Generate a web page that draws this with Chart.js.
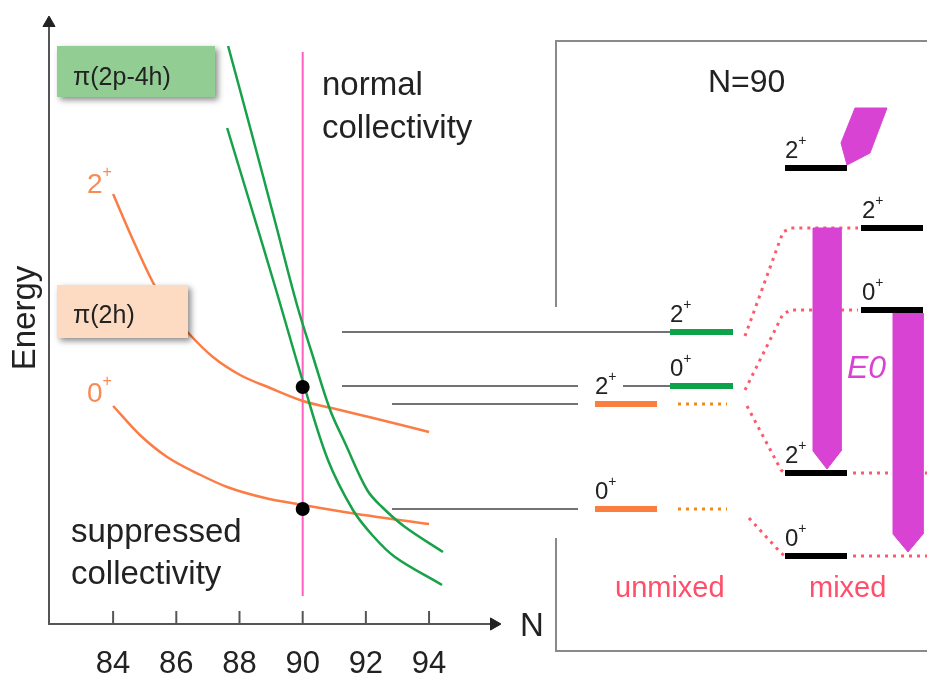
<!DOCTYPE html>
<html>
<head>
<meta charset="utf-8">
<script src="https://cdn.jsdelivr.net/npm/chart.js@4.4.0/dist/chart.umd.min.js"></script>
<style>
  html, body { margin: 0; padding: 0; background: #fff; }
  #wrap { width: 927px; height: 677px; }
</style>
</head>
<body>
<div id="wrap"><canvas id="chart"></canvas></div>
<script>
// neutron number ticks
var nTicks = [84, 86, 88, 90, 92, 94];

// pi(2h) band: 2+ and 0+ energies (arb. units) vs N
var orange2N = [84.0, 84.63, 85.27, 85.80, 86.44, 87.16, 88.02, 88.97, 90.01, 91.18, 92.23, 94.0];
var orange2E = [430, 384, 341, 313, 289, 267, 249, 236, 223, 214, 206, 192];
var orange0N = [84.0, 84.85, 85.71, 86.77, 87.61, 88.81, 90.01, 91.72, 94.0];
var orange0E = [218, 189, 167, 149, 137, 126, 119, 110, 100];

// pi(2p-4h) band
var green2N = [87.64, 88.34, 89.13, 89.82, 90.33, 90.87, 91.34, 92.04, 92.51, 93.24, 94.44];
var green2E = [578, 496, 402, 319, 267, 214, 181, 134, 117, 97, 72];
var green0N = [87.61, 88.34, 89.13, 90.04, 90.80, 91.59, 92.20, 92.92, 94.41];
var green0E = [496, 420, 337, 239, 164, 114, 89, 67, 39];

// states at N=90
var dotN = [90, 90];
var dotE = [237, 115];

// N=90 level scheme (energies)
var greenLevelE = [292, 238];        // 2+, 0+ unmixed
var orangeLevelE = [220, 115];       // 2+, 0+ unmixed
var mixedLeftE = [456, 151, 68];     // 2+, 2+, 0+
var mixedRightE = [396, 314];        // 2+, 0+

Chart.defaults.font.family = "'Liberation Sans', Arial, sans-serif";

var datasets = [];
function seg(axis, pts, style) {
    var d = {
        xAxisID: axis, yAxisID: 'y',
        data: pts.map(function (p) { return {x: p[0], y: p[1]}; }),
        showLine: true, pointRadius: 0, pointHoverRadius: 0,
        borderWidth: 2, borderColor: '#555', tension: 0, clip: false
    };
    for (var k in style) d[k] = style[k];
    datasets.push(d);
}
function zip(xs, ys) { return xs.map(function (x, i) { return [x, ys[i]]; }); }

// frame of the level scheme
seg('px', [[556, 317], [556, 583], [927, 583]], {borderColor: '#8a8a8a'});
seg('px', [[556, 86], [556, -27], [927, -27]], {borderColor: '#8a8a8a'});

// axes
seg('px', [[49, 0], [49, 598]], {borderColor: '#555'});
seg('px', [[48, 0], [492, 0]], {borderColor: '#555'});
seg('px', [[49, 601]], {showLine: false, pointRadius: 7, pointStyle: 'triangle', backgroundColor: '#222', borderColor: '#222', borderWidth: 1});
seg('px', [[494, 0]], {showLine: false, pointRadius: 7, pointStyle: 'triangle', rotation: 90, backgroundColor: '#222', borderColor: '#222', borderWidth: 1});
seg('x', nTicks.map(function (n) { return [n, 6.5]; }), {showLine: false, pointRadius: 6.5, pointStyle: 'line', rotation: 90, borderColor: '#555', borderWidth: 2});

// N = 90 marker
seg('x', [[90, 28], [90, 572]], {borderColor: '#ff5fc0', borderWidth: 2});

// systematics curves
var smooth = {cubicInterpolationMode: 'monotone', borderWidth: 2.5};
var soft = {tension: 0.35, borderWidth: 2.5};
seg('x', zip(orange2N, orange2E), Object.assign({borderColor: '#fb7d45'}, smooth));
seg('x', zip(orange0N, orange0E), Object.assign({borderColor: '#fb7d45'}, smooth));
seg('x', zip(green2N, green2E), Object.assign({borderColor: '#17a24a'}, soft));
seg('x', zip(green0N, green0E), Object.assign({borderColor: '#17a24a'}, soft));
seg('x', zip(dotN, dotE), {showLine: false, pointRadius: 7, backgroundColor: '#000', borderColor: '#000', borderWidth: 0});

// guide lines from the systematics to the level scheme
seg('px', [[342, greenLevelE[0]], [670, greenLevelE[0]]], {borderColor: '#444', borderWidth: 1.5});
seg('px', [[342, greenLevelE[1]], [578, greenLevelE[1]]], {borderColor: '#444', borderWidth: 1.5});
seg('px', [[623, greenLevelE[1]], [670, greenLevelE[1]]], {borderColor: '#444', borderWidth: 1.5});
seg('px', [[392, orangeLevelE[0]], [578, orangeLevelE[0]]], {borderColor: '#444', borderWidth: 1.5});
seg('px', [[392, orangeLevelE[1]], [578, orangeLevelE[1]]], {borderColor: '#444', borderWidth: 1.5});

// mixing connectors (dotted)
var pinkDot = {borderColor: '#ff5a6c', borderWidth: 3, borderDash: [3, 5]};
seg('px', [[745, greenLevelE[0] - 4], [783, mixedRightE[0] - 4], [791, mixedRightE[0]], [858, mixedRightE[0]]], pinkDot);
seg('px', [[745, greenLevelE[1] - 4], [783, mixedRightE[1] - 4], [791, mixedRightE[1]], [858, mixedRightE[1]]], pinkDot);
seg('px', [[747, orangeLevelE[0] - 2], [781, mixedLeftE[1] + 3], [785, mixedLeftE[1]]], pinkDot);
seg('px', [[749, orangeLevelE[1] - 9], [781, mixedLeftE[2] + 3], [785, mixedLeftE[2]]], pinkDot);
seg('px', [[853, mixedLeftE[1]], [927, mixedLeftE[1]]], pinkDot);
seg('px', [[853, mixedLeftE[2]], [927, mixedLeftE[2]]], pinkDot);
var orangeDot = {borderColor: '#f08a1c', borderWidth: 3, borderDash: [3, 5]};
seg('px', [[678, orangeLevelE[0]], [727, orangeLevelE[0]]], orangeDot);
seg('px', [[678, orangeLevelE[1]], [727, orangeLevelE[1]]], orangeDot);

// E0 transitions and the top gamma arrow
var magenta = {borderColor: '#d843d3', backgroundColor: '#d843d3', borderWidth: 1, fill: 'shape'};
function e0(x0, x1, top, bottom) {
    var mid = (x0 + x1) / 2, tip = bottom + 4, sh = tip + 18;
    seg('px', [[x0, top], [x1, top], [x1, sh], [mid, tip], [x0, sh], [x0, top]], magenta);
}
e0(813, 841, mixedRightE[0], mixedLeftE[1]);
e0(893, 923, mixedRightE[1] - 3, mixedLeftE[2]);
seg('px', [[855, 516], [887, 516], [870, 471], [847, mixedLeftE[0] + 3], [841, 481], [855, 516]], magenta);

// levels
function level(x0, x1, e, color) {
    seg('px', [[x0, e], [x1, e]], {borderColor: color, borderWidth: 6, borderCapStyle: 'butt'});
}
greenLevelE.forEach(function (e) { level(670, 733, e, '#0ea34a'); });
orangeLevelE.forEach(function (e) { level(595, 657, e, '#fb7d40'); });
mixedLeftE.forEach(function (e) { level(785, 847, e, '#000'); });
mixedRightE.forEach(function (e) { level(861, 923, e, '#000'); });

datasets.forEach(function (d, i) { d.order = -i; });

var decor = {
    id: 'decor',
    afterDatasetsDraw: function (chart) {
        var ctx = chart.ctx;
        var X = chart.scales.px, Y = chart.scales.y;
        function px(v) { return X.getPixelForValue(v); }
        function py(e) { return Y.getPixelForValue(e); }

        function box(x, y, w, h, fill) {
            ctx.save();
            ctx.shadowColor = 'rgba(0,0,0,0.45)';
            ctx.shadowBlur = 6;
            ctx.shadowOffsetX = 3;
            ctx.shadowOffsetY = 3;
            ctx.fillStyle = fill;
            ctx.fillRect(x, y, w, h);
            ctx.restore();
        }
        function txt(s, x, y, font, color) {
            ctx.font = font;
            ctx.fillStyle = color;
            ctx.textAlign = 'left';
            ctx.textBaseline = 'alphabetic';
            ctx.fillText(s, x, y);
        }
        function sup(base, x, y, size, color) {
            txt(base, x, y, size + 'px "Liberation Sans", Arial', color);
            var w = ctx.measureText(base).width;
            txt('+', x + w, y - 0.56 * size, Math.round(size * 0.58) + 'px "Liberation Sans", Arial', color);
        }

        ctx.save();
        box(57, 46, 158, 51, '#92cd93');
        txt('\u03c0(2p-4h)', 73, 85, '25px "Liberation Sans", Arial', '#222');
        box(57, 285, 131, 53, '#fddbc2');
        txt('\u03c0(2h)', 73, 323, '25px "Liberation Sans", Arial', '#222');

        sup('2', 87, 193, 28, '#f98a55');
        sup('0', 87, 402, 28, '#f98a55');

        var big = '33px "Liberation Sans", Arial';
        txt('normal', 322, 95, big, '#222');
        txt('collectivity', 322, 138, big, '#222');
        txt('suppressed', 71, 542, big, '#222');
        txt('collectivity', 71, 584, big, '#222');
        txt('N', 520, 636, big, '#222');
        txt('N=90', 708, 92, '32px "Liberation Sans", Arial', '#222');
        txt('E0', 847, 378, 'italic 32px "Liberation Sans", Arial', '#d843d3');
        txt('unmixed', 615, 597, '29px "Liberation Sans", Arial', '#ff4f6a');
        txt('mixed', 809, 597, '29px "Liberation Sans", Arial', '#ff4f6a');

        ctx.save();
        ctx.translate(35, 318);
        ctx.rotate(-Math.PI / 2);
        ctx.font = big;
        ctx.fillStyle = '#222';
        ctx.textAlign = 'center';
        ctx.textBaseline = 'alphabetic';
        ctx.fillText('Energy', 0, 0);
        ctx.restore();

        // level spin labels
        var lab = [
            [670, greenLevelE[0], '2'], [670, greenLevelE[1], '0'],
            [595, orangeLevelE[0], '2'], [595, orangeLevelE[1], '0'],
            [785, mixedLeftE[0], '2'], [785, mixedLeftE[1], '2'], [785, mixedLeftE[2], '0'],
            [862, mixedRightE[0], '2'], [862, mixedRightE[1], '0']
        ];
        lab.forEach(function (l) { sup(l[2], px(l[0]), py(l[1]) - 10, 24, '#222'); });
        ctx.restore();
    }
};

new Chart(document.getElementById('chart'), {
    type: 'scatter',
    data: {datasets: datasets},
    options: {
        responsive: true,
        maintainAspectRatio: false,
        animation: false,
        events: [],
        layout: {padding: 0, autoPadding: false},
        plugins: {legend: {display: false}, tooltip: {enabled: false}},
        scales: {
            x: {
                type: 'linear', position: 'bottom', min: 80.42, max: 109.76,
                afterBuildTicks: function (s) { s.ticks = nTicks.map(function (v) { return {value: v}; }); },
                afterFit: function (s) { s.height = 37; s.paddingLeft = 0; s.paddingRight = 0; },
                grid: {display: false, drawTicks: false},
                border: {display: false},
                ticks: {color: '#222', padding: 6, font: {size: 31}, autoSkip: false, maxRotation: 0}
            },
            px: {type: 'linear', axis: 'x', position: 'bottom', display: false, min: 0, max: 927},
            y: {type: 'linear', display: false, min: -16, max: 624}
        }
    },
    plugins: [decor]
});
</script>
</body>
</html>
